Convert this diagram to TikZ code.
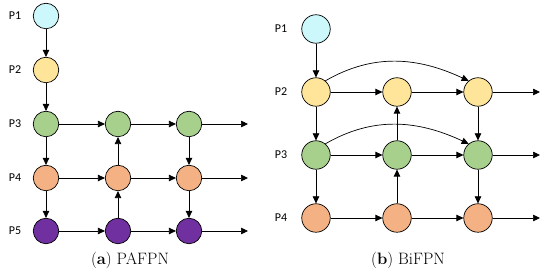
\documentclass[tikz,border=0pt]{standalone}
\usepackage{fontspec}
\newfontfamily\tagfont{Carlito}
\usetikzlibrary{arrows.meta}

\definecolor{cyanfill}{HTML}{CCF8FC}
\definecolor{yellowfill}{HTML}{FFE59A}
\definecolor{greenfill}{HTML}{A8D08D}
\definecolor{orangefill}{HTML}{F4B183}
\definecolor{purplefill}{HTML}{7030A0}

\begin{document}
\begin{tikzpicture}[x=1pt, y=1pt, blob/.style={circle, draw=black, line width=0.7pt, inner sep=0pt, minimum size=25.5pt}, bblob/.style={blob, minimum size=28.5pt}, link/.style={-{Triangle[length=7pt, width=6.5pt]}, line width=0.7pt}, tag/.style={font=\tagfont\fontsize{12}{12}\selectfont}, caption/.style={font=\fontsize{16.5}{18}\selectfont}]

\useasboundingbox (0,0) rectangle (550,278);

% (a) PAFPN
\node[tag] (ta1) at (15,262) {P1}; \node[tag] (ta2) at (15,208) {P2}; \node[tag] (ta3) at (15,154) {P3}; \node[tag] (ta4) at (15,100) {P4}; \node[tag] (ta5) at (15,47) {P5};
\node[blob, fill=cyanfill] (a1) at (46,262) {}; \node[blob, fill=yellowfill] (a2) at (46,208) {};
\node[blob, fill=greenfill] (a3) at (46,154) {}; \node[blob, fill=greenfill] (b3) at (118,154) {}; \node[blob, fill=greenfill] (c3) at (189,154) {};
\node[blob, fill=orangefill] (a4) at (46,100) {}; \node[blob, fill=orangefill] (b4) at (118,100) {}; \node[blob, fill=orangefill] (c4) at (189,100) {};
\node[blob, fill=purplefill] (a5) at (46,47) {}; \node[blob, fill=purplefill] (b5) at (118,47) {}; \node[blob, fill=purplefill] (c5) at (189,47) {};
\coordinate (oa3) at (248,154); \coordinate (oa4) at (248,100); \coordinate (oa5) at (248,47);
\draw[link] (a1)--(a2); \draw[link] (a2)--(a3); \draw[link] (a3)--(a4); \draw[link] (a4)--(a5);
\draw[link] (a3)--(b3); \draw[link] (b3)--(c3); \draw[link] (c3)--(oa3);
\draw[link] (a4)--(b4); \draw[link] (b4)--(c4); \draw[link] (c4)--(oa4);
\draw[link] (a5)--(b5); \draw[link] (b5)--(c5); \draw[link] (c5)--(oa5);
\draw[link] (b5)--(b4); \draw[link] (b4)--(b3); \draw[link] (c3)--(c4); \draw[link] (c4)--(c5);
\node[caption] (capa) at (130,18) {(\textbf{a}) PAFPN};

% (b) BiFPN
\node[tag] (tb1) at (281,249) {P1}; \node[tag] (tb2) at (281,186) {P2}; \node[tag] (tb3) at (281,123) {P3}; \node[tag] (tb4) at (281,60) {P4};
\node[bblob, fill=cyanfill] (p1) at (316,249) {};
\node[bblob, fill=yellowfill] (p2) at (316,186) {}; \node[bblob, fill=yellowfill] (q2) at (397,186) {}; \node[bblob, fill=yellowfill] (r2) at (478,186) {};
\node[bblob, fill=greenfill] (p3) at (316,123) {}; \node[bblob, fill=greenfill] (q3) at (397,123) {}; \node[bblob, fill=greenfill] (r3) at (478,123) {};
\node[bblob, fill=orangefill] (p4) at (316,60) {}; \node[bblob, fill=orangefill] (q4) at (397,60) {}; \node[bblob, fill=orangefill] (r4) at (478,60) {};
\coordinate (ob2) at (540,186); \coordinate (ob3) at (540,123); \coordinate (ob4) at (540,60);
\draw[link] (p1)--(p2); \draw[link] (p2)--(p3); \draw[link] (p3)--(p4);
\draw[link] (p2)--(q2); \draw[link] (q2)--(r2); \draw[link] (r2)--(ob2);
\draw[link] (p3)--(q3); \draw[link] (q3)--(r3); \draw[link] (r3)--(ob3);
\draw[link] (p4)--(q4); \draw[link] (q4)--(r4); \draw[link] (r4)--(ob4);
\draw[link] (q4)--(q3); \draw[link] (q3)--(q2); \draw[link] (r2)--(r3); \draw[link] (r3)--(r4);
\draw[link] (p2.50) to[out=30, in=155] (r2.130); \draw[link] (p3.50) to[out=30, in=155] (r3.130);
\node[caption] (capb) at (408,18) {(\textbf{b}) BiFPN};
\end{tikzpicture}
\end{document}
